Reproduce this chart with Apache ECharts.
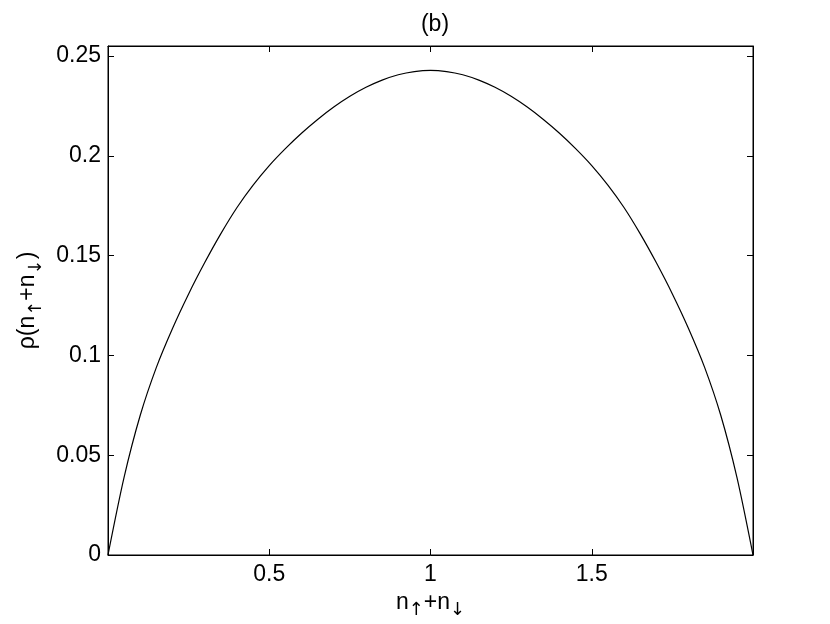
<!DOCTYPE html>
<html>
<head>
<meta charset="utf-8">
<script src="https://cdn.jsdelivr.net/npm/echarts@6/dist/echarts.min.js"></script>
<style>
html,body{margin:0;padding:0;background:#fff;}
#chart{width:830px;height:624px;}
</style>
</head>
<body>
<div id="chart"></div>
<script>
// n_up + n_down values (x) and rho values (y)
var nValues = [0, 0.05, 0.1, 0.15, 0.2, 0.25, 0.3, 0.35, 0.4, 0.45, 0.5, 0.55, 0.6, 0.65, 0.7, 0.75, 0.8, 0.85, 0.9, 0.95, 1.0,
               1.05, 1.1, 1.15, 1.2, 1.25, 1.3, 1.35, 1.4, 1.45, 1.5, 1.55, 1.6, 1.65, 1.7, 1.75, 1.8, 1.85, 1.9, 1.95, 2.0];
var rhoValues = [0, 0.039, 0.070, 0.094, 0.1135, 0.1308, 0.1465, 0.161, 0.1741, 0.1853, 0.1951, 0.2036, 0.2113, 0.2182, 0.2244, 0.2298, 0.2343, 0.2379, 0.2406, 0.2422, 0.2428,
                 0.2422, 0.2406, 0.2379, 0.2343, 0.2298, 0.2244, 0.2182, 0.2113, 0.2036, 0.1951, 0.1853, 0.1741, 0.161, 0.1465, 0.1308, 0.1135, 0.094, 0.070, 0.039, 0];
var xTickLabels = ['0.5', '1', '1.5'];
var yTickLabels = ['0', '0.05', '0.1', '0.15', '0.2', '0.25'];
var titleText = '(b)';

var FONT = "'Liberation Sans', Arial, Helvetica, sans-serif";
var chart = echarts.init(document.getElementById('chart'), null, {renderer: 'canvas'});

function fmtX(v) {
  var s = String(+v.toFixed(2));
  return xTickLabels.indexOf(s) >= 0 ? s : '';
}
function fmtY(v) {
  var s = String(+v.toFixed(3));
  return yTickLabels.indexOf(s) >= 0 ? s : '';
}

var rich = {
  n: {fontSize: 23, fontFamily: FONT, color: '#000'},
  s: {fontSize: 18, fontFamily: "'DejaVu Sans', " + FONT, color: '#000', padding: [16, 0, 0, 0]}
};

var axisCommon = {
  axisLine: {show: true, onZero: false, lineStyle: {color: '#000', width: 1}},
  axisTick: {show: true, inside: true, length: 6, lineStyle: {color: '#000', width: 1}},
  splitLine: {show: false}
};

chart.setOption({
  animation: false,
  backgroundColor: '#fff',
  title: {
    text: titleText, left: 430, top: 8, textAlign: 'center',
    textStyle: {fontSize: 23, fontWeight: 'normal', fontFamily: FONT, color: '#000'}
  },
  grid: {left: 108, right: 77, top: 46, bottom: 69, containLabel: false, outerBoundsMode: 'none',
         show: true, borderColor: '#000', borderWidth: 1, backgroundColor: '#fff'},
  xAxis: [
    Object.assign({
      type: 'value', position: 'bottom', min: 0, max: 2, interval: 0.5,
      axisLabel: {show: true, formatter: fmtX, margin: 8, fontSize: 23, fontFamily: FONT, color: '#000'},
      name: '{n|n}{s|↑}{n|+n}{s|↓}', nameLocation: 'middle', nameGap: 27,
      nameTextStyle: {rich: rich}
    }, axisCommon),
    Object.assign({
      type: 'value', position: 'top', min: 0, max: 2, interval: 0.5,
      axisLabel: {show: false}
    }, axisCommon)
  ],
  yAxis: [
    Object.assign({
      type: 'value', position: 'left', min: 0, max: 0.255, interval: 0.05,
      axisLabel: {show: true, formatter: fmtY, margin: 7, fontSize: 23, fontFamily: FONT, color: '#000'},
      name: '{n|ρ(n}{s|↑}{n|+n}{s|↓}{n|)}', nameLocation: 'middle', nameGap: 63, nameRotate: 90,
      nameTextStyle: {rich: rich}
    }, axisCommon),
    Object.assign({
      type: 'value', position: 'right', min: 0, max: 0.255, interval: 0.05,
      axisLabel: {show: false}
    }, axisCommon)
  ],
  series: [{
    type: 'line',
    xAxisIndex: 0, yAxisIndex: 0,
    data: nValues.map(function (x, i) { return [x, rhoValues[i]]; }),
    showSymbol: false,
    smooth: 0.3,
    lineStyle: {color: '#000', width: 1.2},
    itemStyle: {color: '#000'}
  }]
});
</script>
</body>
</html>
